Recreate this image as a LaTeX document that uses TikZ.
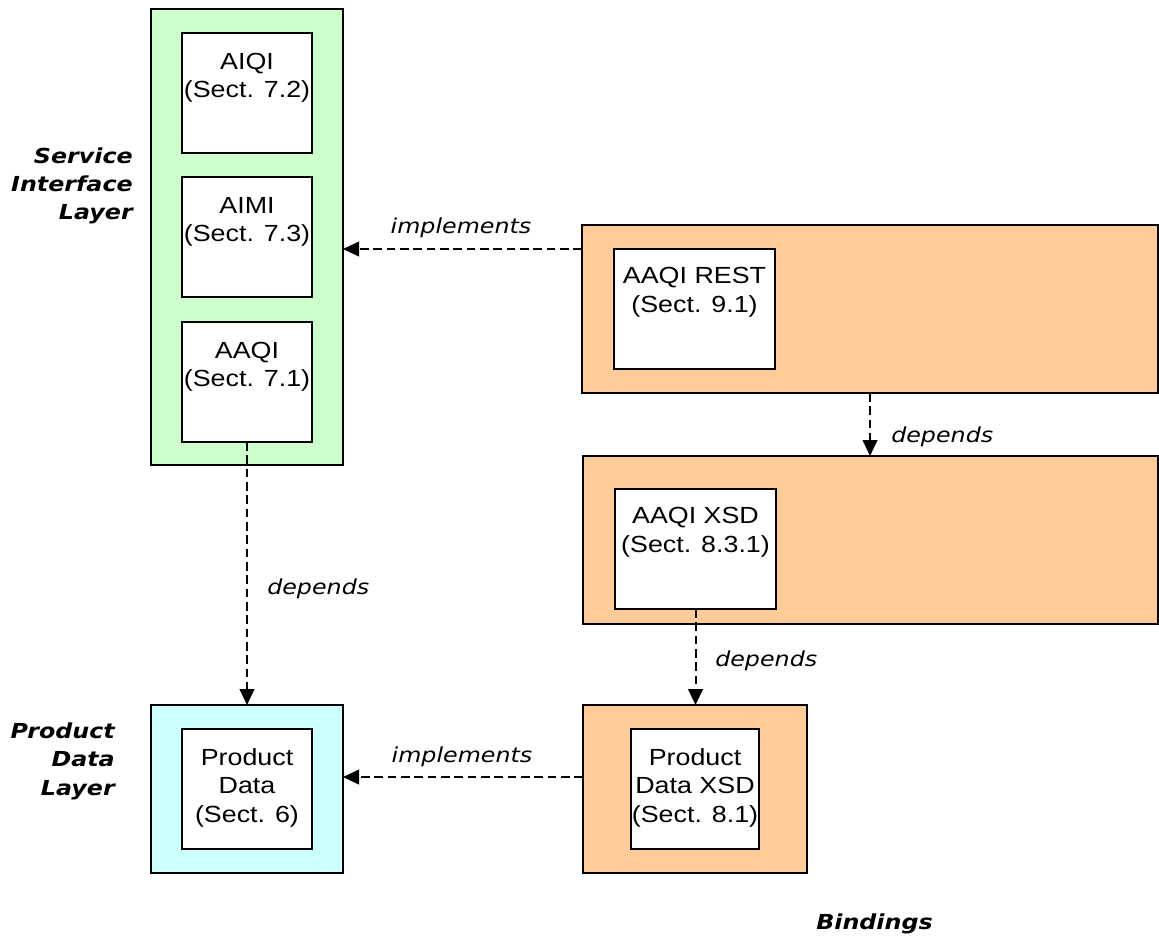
\documentclass[tikz,border=0pt]{standalone}
\usepackage{fontspec}
\setmainfont{Liberation Sans}
\newfontfamily\verd{DejaVu Sans}
\usetikzlibrary{arrows.meta,fit}
\definecolor{lgreen}{HTML}{CCFFCC}
\definecolor{lcyan}{HTML}{CCFFFF}
\definecolor{lpeach}{HTML}{FFCC99}
\newcommand{\hsc}[2]{\scalebox{1.15}[1]{\begin{tabular}[t]{@{}#1@{}}#2\end{tabular}}}
\begin{document}
\begin{tikzpicture}[x=0.75pt,y=-0.75pt,
  frame/.style={draw=black, line width=1.5pt, inner sep=0pt, outer sep=0pt},
  inbox/.style={frame, fill=white},
  boxtext/.style={anchor=base, inner sep=0pt, font=\fontsize{17.5}{21.6}\selectfont},
  edgelbl/.style={inner sep=0pt, font=\verd\itshape\fontsize{15.5}{21}\selectfont},
  layerlbl/.style={inner sep=0pt, font=\verd\bfseries\itshape\fontsize{15.5}{21}\selectfont},
  conn/.style={line width=1.5pt, dash pattern=on 6.5pt off 3.5pt, -{Triangle[length=12pt,width=11pt]}}
]
\useasboundingbox[fill=white] (0,0) rectangle (1159,935);

% outer frames
\node[frame, fill=lgreen, fit={(151,9) (343,465)}] (green) {};
\node[frame, fill=lcyan, fit={(151,705) (343,873)}] (blue) {};
\node[frame, fill=lpeach, fit={(582,225) (1158,393)}] (rest) {};
\node[frame, fill=lpeach, fit={(583,456) (1158,624)}] (xsd) {};
\node[frame, fill=lpeach, fit={(583,705) (807,873)}] (pdx) {};

% inner boxes
\node[inbox, fit={(182,33) (312,153)}] (aiqi) {};
\node[inbox, fit={(182,177) (312,297)}] (aimi) {};
\node[inbox, fit={(182,322) (312,442)}] (aaqi) {};
\node[inbox, fit={(182,729) (312,849)}] (pd) {};
\node[inbox, fit={(614,249) (775,369)}] (aaqirest) {};
\node[inbox, fit={(615,489) (776,609)}] (aaqixsd) {};
\node[inbox, fit={(631,729) (759,849)}] (pdxsd) {};

% inner texts
\node[boxtext] (taiqi) at ([yshift=-27pt]aiqi.north) {\hsc{c}{AIQI\\(Sect. 7.2)}};
\node[boxtext] (taimi) at ([yshift=-27pt]aimi.north) {\hsc{c}{AIMI\\(Sect. 7.3)}};
\node[boxtext] (taaqi) at ([yshift=-27pt]aaqi.north) {\hsc{c}{AAQI\\(Sect. 7.1)}};
\node[boxtext] (tpd) at ([yshift=-27pt]pd.north) {\hsc{c}{Product\\Data\\(Sect. 6)}};
\node[boxtext] (trest) at ([yshift=-26pt]aaqirest.north) {\hsc{c}{AAQI REST\\(Sect. 9.1)}};
\node[boxtext] (txsd) at ([yshift=-26pt]aaqixsd.north) {\hsc{c}{AAQI XSD\\(Sect. 8.3.1)}};
\node[boxtext] (tpdxsd) at ([yshift=-27pt]pdxsd.north) {\hsc{c}{Product\\Data XSD\\(Sect. 8.1)}};

% layer labels
\node[layerlbl, anchor=base east] (lsil) at (133,163) {\hsc{r}{Service\\Interface\\Layer}};
\node[layerlbl, anchor=base east, font=\verd\bfseries\itshape\fontsize{15.5}{21.6}\selectfont] (lpdl) at (115,738) {\hsc{r}{Product\\Data\\Layer}};
\node[layerlbl, anchor=base west] (lbind) at (816,929) {\hsc{l}{Bindings}};

% connectors
\draw[conn] (rest.west |- aaqirest.north) -- (green.east |- aaqirest.north);
\draw[conn] (rest.south) -- (rest.south |- xsd.north);
\draw[conn] (aaqixsd.south) -- (aaqixsd.south |- pdx.north);
\draw[conn] (aaqi.south) -- (blue.north);
\draw[conn] ([yshift=9pt]pdx.west) -- ([yshift=9pt]blue.east);

% connector labels
\node[edgelbl, anchor=base] (limp1) at (461,233) {\hsc{c}{implements}};
\node[edgelbl, anchor=base] (limp2) at (462,762) {\hsc{c}{implements}};
\node[edgelbl, anchor=base west] (ldep1) at (267,594) {\hsc{l}{depends}};
\node[edgelbl, anchor=base west] (ldep2) at (891,442) {\hsc{l}{depends}};
\node[edgelbl, anchor=base west] (ldep3) at (715,666) {\hsc{l}{depends}};
\end{tikzpicture}
\end{document}
